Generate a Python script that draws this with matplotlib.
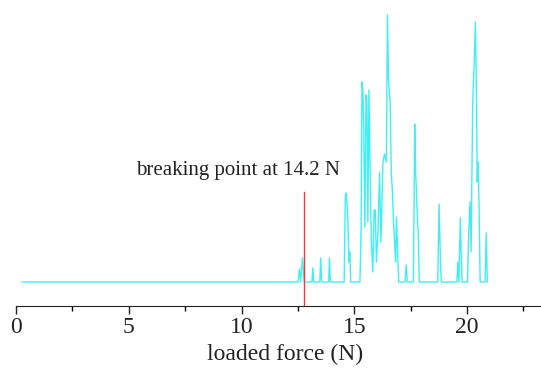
import matplotlib.pyplot as plt
from matplotlib.ticker import MultipleLocator

# loaded force (N) and acoustic signal (arbitrary units)
force = [0.27, 12.50, 12.57, 12.62, 12.70, 12.78, 13.12, 13.16, 13.20, 13.47,
         13.51, 13.55, 13.86, 13.90, 13.94, 14.55, 14.60, 14.64, 14.67, 14.72,
         14.76, 14.80, 14.84, 15.25, 15.30, 15.34, 15.38, 15.42, 15.47, 15.52,
         15.56, 15.60, 15.65, 15.70, 15.75, 15.82, 15.88, 15.93, 15.98, 16.05,
         16.12, 16.18, 16.27, 16.34, 16.42, 16.47, 16.52, 16.59, 16.64, 16.69,
         16.74, 16.79, 16.83, 16.87, 16.92, 16.97, 17.25, 17.30, 17.35, 17.62,
         17.68, 17.72, 17.78, 17.84, 17.88, 18.70, 18.76, 18.82, 18.86, 19.55,
         19.59, 19.64, 19.70, 19.74, 19.78, 20.02, 20.07, 20.13, 20.18, 20.25,
         20.32, 20.37, 20.41, 20.45, 20.48, 20.53, 20.58, 20.80, 20.85, 20.90]
signal = [0, 0, 13, 0, 24, 0, 0, 14, 0, 0,
          24, 0, 0, 24, 0, 0, 85, 89, 80, 60,
          20, 30, 0, 0, 50, 200, 190, 150, 55, 187,
          180, 60, 192, 110, 45, 10, 72, 72, 20, 50,
          110, 40, 120, 128, 120, 267, 200, 180, 110, 90,
          60, 40, 20, 65, 30, 0, 0, 17, 0, 0,
          158, 110, 75, 45, 0, 0, 78, 20, 0, 0,
          20, 0, 64, 30, 0, 0, 48, 80, 30, 180,
          220, 260, 200, 100, 120, 80, 0, 0, 49, 0]

break_force = 12.76
break_label = "breaking point at 14.2 N"

plt.rcParams['font.family'] = ['Liberation Serif', 'DejaVu Serif']

fig = plt.figure(figsize=(5.41, 3.72), dpi=100)
ax = fig.add_axes([16 / 541, 66 / 372, 530 / 541, 301 / 372])

ax.plot(force, signal, color="#3ff0f0", lw=1.0)
ax.plot([break_force, break_force], [-24, 90], color="#f03a3a", lw=1.0)
ax.text(9.85, 112, break_label, ha="center", va="center", fontsize=15, color="#222222")

ax.set_xlim(0, 23.5)
ax.set_ylim(-24, 277)
ax.xaxis.set_major_locator(MultipleLocator(5))
ax.xaxis.set_minor_locator(MultipleLocator(2.5))
ax.tick_params(axis="x", which="major", length=6, width=1, labelsize=17, pad=2, colors="#222222")
ax.tick_params(axis="x", which="minor", length=3.5, width=1)
ax.set_yticks([])
for side in ["left", "right", "top"]:
    ax.spines[side].set_visible(False)
ax.spines["bottom"].set_color("#222222")
ax.set_xlabel("loaded force (N)", fontsize=17, color="#222222", labelpad=4)
ax.xaxis.set_label_coords(0.508, -0.125)
ax.xaxis.label.set_va("top")

fig.savefig("out.png", dpi=100)
